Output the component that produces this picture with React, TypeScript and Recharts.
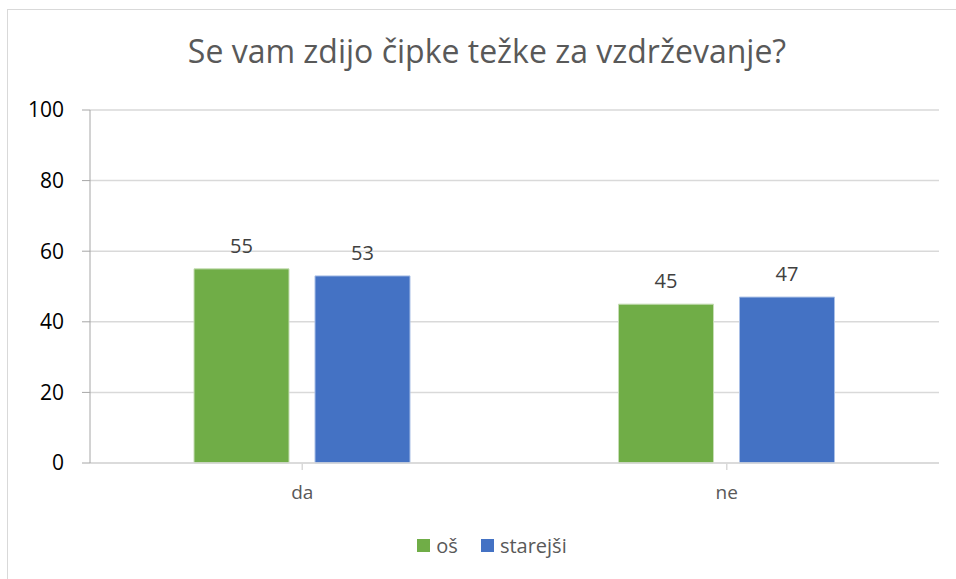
import React from 'react';
import { BarChart, Bar, XAxis, YAxis, CartesianGrid, LabelList, Legend } from 'recharts';

const categories = ['da', 'ne'];
const osValues = [55, 45];
const starejsiValues = [53, 47];
const yTicks = [0, 20, 40, 60, 80, 100];
const seriesNames = ['oš', 'starejši'];
const seriesColors = ['#70AD47', '#4472C4'];
const title = 'Se vam zdijo čipke težke za vzdrževanje?';

const data = categories.map((c, i) => ({ name: c, os: osValues[i], starejsi: starejsiValues[i] }));

const FONT = '"Open Sans", "Noto Sans", sans-serif';

const LegendContent = () => (
  <div style={{ display: 'flex', justifyContent: 'center', fontFamily: FONT, fontSize: 20, color: '#595959', paddingLeft: 28 }}>
    {seriesNames.map((n, i) => (
      <div key={n} style={{ display: 'flex', alignItems: 'center', marginRight: i === 0 ? 23 : 0 }}>
        <span style={{ display: 'inline-block', width: 13, height: 13, background: seriesColors[i], marginRight: 6 }} />
        <span>{n}</span>
      </div>
    ))}
  </div>
);

export default function App() {
  return (
    <div style={{ position: 'absolute', left: 0, top: 0, width: 956, height: 579, background: '#fff', overflow: 'hidden' }}>
      <div style={{ position: 'absolute', left: 7, top: 9, width: 1000, height: 1000, border: '1.5px solid #D9D9D9', boxSizing: 'border-box' }} />
      <div style={{ position: 'absolute', left: 0, top: 29, width: 974, textAlign: 'center', fontFamily: FONT, fontSize: 32, color: '#595959' }}>{title}</div>
      <div style={{ position: 'absolute', left: 0, top: 0 }}>
        <BarChart width={956} height={579} data={data} margin={{ top: 110, right: 17, left: 0, bottom: 59 }} barCategoryGap={104} barGap={26}>
          <CartesianGrid vertical={false} stroke="#D9D9D9" strokeWidth={1.5} />
          <XAxis dataKey="name" stroke="#D9D9D9" strokeWidth={1.5} tickLine={{ stroke: '#D9D9D9' }} tickSize={7} tickMargin={16} tick={{ fill: '#595959', fontSize: 19, fontFamily: FONT }} height={30} />
          <YAxis domain={[0, 100]} ticks={yTicks} width={90} stroke="#A6A6A6" tickLine={{ stroke: '#A6A6A6' }} tickSize={8} tick={{ fill: '#000', fontSize: 21, fontFamily: FONT }} tickMargin={18} />
          <Legend verticalAlign="bottom" content={<LegendContent />} wrapperStyle={{ position: 'absolute', top: 532, left: 0, width: 956 }} />
          <Bar dataKey="os" name={seriesNames[0]} fill={seriesColors[0]} stroke="#C6DDB5" strokeWidth={1} isAnimationActive={false}>
            <LabelList dataKey="os" position="top" offset={16} style={{ fill: '#404040', fontSize: 20, fontFamily: FONT }} />
          </Bar>
          <Bar dataKey="starejsi" name={seriesNames[1]} fill={seriesColors[1]} stroke="#A9BFE6" strokeWidth={1} isAnimationActive={false}>
            <LabelList dataKey="starejsi" position="top" offset={16} style={{ fill: '#404040', fontSize: 20, fontFamily: FONT }} />
          </Bar>
        </BarChart>
      </div>
    </div>
  );
}
